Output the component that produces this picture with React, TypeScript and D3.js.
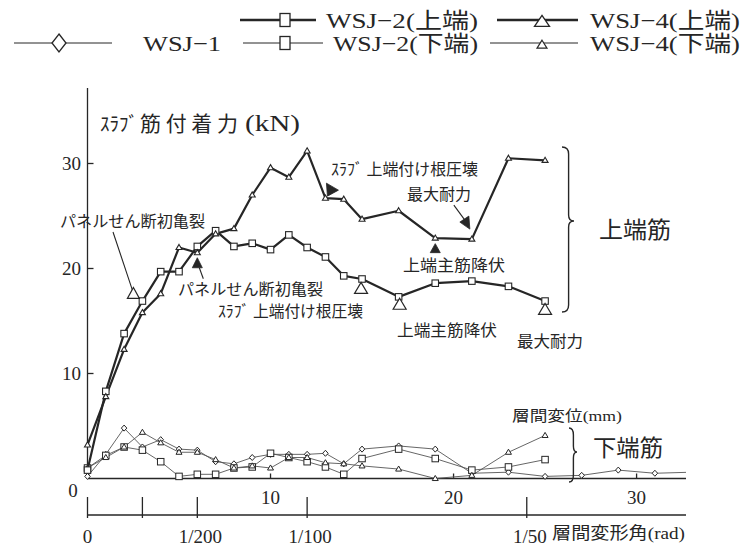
import React from "react";
import * as d3 from "d3";

// Story drift (mm) at each recorded load step
const driftSteps = [0, 1, 2, 3, 4, 5, 6, 7, 8, 9, 10, 11, 12, 13, 14, 15, 17, 19, 21, 23, 25];
const driftStepsWsj1 = [0, 1, 2, 3, 4, 5, 6, 7, 8, 9, 10, 11, 12, 13, 14, 15, 17, 19, 21, 23, 25, 27, 29, 31, 33];

// Slab bar bond force (kN)
const wsj2Top = [0.8, 8.3, 13.8, 16.9, 19.7, 19.7, 22.1, 23.6, 22.1, 22.4, 21.8, 23.2, 22.0, 21.1, 19.3, 19.0, 17.3, 18.6, 18.8, 18.3, 16.9];
const wsj4Top = [3.2, 7.8, 12.3, 15.8, 17.6, 22.0, 21.5, 23.3, 23.8, 27.0, 29.6, 28.7, 31.2, 26.7, 26.6, 24.7, 25.5, 22.9, 22.8, 30.5, 30.3];
const wsj1 = [0.2, 2.3, 4.8, 3.0, 3.7, 2.8, 2.7, 1.6, 1.4, 2.0, 2.3, 2.3, 2.3, 2.4, 1.4, 2.8, 3.1, 2.8, 0.5, 0.6, 0.2, 0.3, 0.8, 0.5, 0.6];
const wsj2Bottom = [1.0, 2.2, 3.0, 2.7, 1.6, 0.2, 0.4, 0.4, 1.0, 1.1, 2.4, 2.0, 1.6, 1.1, 0.4, 1.9, 2.8, 1.9, 0.8, 1.1, 1.8];
const wsj4Bottom = [1.0, 2.0, 3.0, 4.4, 3.4, 2.5, 2.5, 1.8, 1.0, 1.2, 1.0, 2.0, 2.0, 1.5, 1.4, 1.2, 0.9, 0.0, 0.3, 2.5, 4.1];

const yTicks = [10, 20, 30];
const xTicks = [10, 20, 30];
const radTicks = [0, 1 / 400, 1 / 200, 1 / 100, 1 / 50];
const radLabels = ["0", "", "1/200", "1/100", "1/50"];

const INK = "#262626";
const SERIF = "'Liberation Serif', 'DejaVu Serif', serif";
const JP = "'Noto Sans CJK JP', 'Noto Sans CJK SC', sans-serif";
const MIXED = "'Liberation Serif', 'Noto Sans CJK JP', serif";

const x = d3.scaleLinear().domain([0, 32.7]).range([87.5, 686]);
const y = d3.scaleLinear().domain([0, 37]).range([478.5, 90]);
const rad = d3.scaleLinear().domain([0, 0.02]).range([x(0), x(24)]);

function seriesPath(xs: number[], vs: number[]) {
  return (
    d3
      .line<number>()
      .x((_, i) => x(xs[i]))
      .y((v) => y(v))(vs) || ""
  );
}

function tri(cx: number, cy: number, w: number, h: number) {
  return `M${cx},${cy - h * 0.6}L${cx + w / 2},${cy + h * 0.4}L${cx - w / 2},${cy + h * 0.4}Z`;
}
function diamond(cx: number, cy: number, w: number, h: number) {
  return `M${cx},${cy - h / 2}L${cx + w / 2},${cy}L${cx},${cy + h / 2}L${cx - w / 2},${cy}Z`;
}
function brace(x0: number, yTop: number, yBot: number, yMid: number, w: number) {
  const xb = x0 + w * 0.55;
  return (
    `M${x0},${yTop}Q${xb},${yTop} ${xb},${yTop + 7}` +
    `L${xb},${yMid - 6}Q${xb},${yMid} ${x0 + w},${yMid}` +
    `Q${xb},${yMid} ${xb},${yMid + 6}` +
    `L${xb},${yBot - 7}Q${xb},${yBot} ${x0},${yBot}`
  );
}

type MarkerKind = "square" | "triangle" | "diamond";

function Markers({ xs, vs, kind, size, sw, clipMax }: { xs: number[]; vs: number[]; kind: MarkerKind; size: number; sw: number; clipMax?: number }) {
  return (
    <g fill="#fff" stroke={INK} strokeWidth={sw}>
      {vs.map((v, i) => {
        const px = x(xs[i]);
        if (clipMax !== undefined && px > clipMax) return null;
        const py = y(v);
        if (kind === "square")
          return <rect key={i} x={px - size / 2} y={py - size / 2} width={size} height={size} />;
        if (kind === "triangle") return <path key={i} d={tri(px, py, size, size * 0.85)} />;
        return <path key={i} d={diamond(px, py, size, size * 1.1)} />;
      })}
    </g>
  );
}

export default function App() {
  const x0 = x(0);
  const xEnd = 686;
  const y0 = y(0);
  const radY = 515;

  // anchor points for the event markers
  const p = (xs: number[], vs: number[], i: number) => [x(xs[i]), y(vs[i])];
  const [a2x, a2y] = p(driftSteps, wsj2Top, 3);
  const [c2x, c2y] = p(driftSteps, wsj4Top, 6);
  const [s4x, s4y] = p(driftSteps, wsj4Top, 13);
  const [y4x, y4y] = p(driftSteps, wsj4Top, 17);
  const [m4x, m4y] = p(driftSteps, wsj4Top, 18);
  const [s2x, s2y] = p(driftSteps, wsj2Top, 15);
  const [y2x, y2y] = p(driftSteps, wsj2Top, 16);
  const [m2x, m2y] = p(driftSteps, wsj2Top, 20);

  return (
    <svg
      width={742}
      height={546}
      viewBox="0 0 742 546"
      style={{ position: "absolute", left: 0, top: 0, background: "#fff" }}
    >
      <defs>
        <clipPath id="plotClip">
          <rect x={x0} y={80} width={xEnd - x0} height={420} />
        </clipPath>
      </defs>

      {/* legend */}
      <g stroke={INK} fill="#fff">
        <line x1={240} x2={316} y1={20} y2={20} strokeWidth={2.4} />
        <rect x={280} y={13.5} width={10} height={13} strokeWidth={1.3} />
        <line x1={497} x2={578} y1={20} y2={20} strokeWidth={2.4} />
        <path d={tri(542, 22, 15, 11)} strokeWidth={1.3} />
        <line x1={14} x2={112} y1={43} y2={43} strokeWidth={1} />
        <path d={diamond(59, 43, 14, 18)} strokeWidth={1.3} />
        <line x1={243} x2={323} y1={43} y2={43} strokeWidth={1} />
        <rect x={280} y={36.5} width={10} height={13} strokeWidth={1.3} />
        <line x1={490} x2={578} y1={43} y2={43} strokeWidth={1} />
        <path d={tri(542, 45, 10, 8)} strokeWidth={1.2} />
      </g>
      <g fill={INK} fontFamily={MIXED} fontSize={22}>
        <text x={326} y={28} textLength={152} lengthAdjust="spacingAndGlyphs">WSJ−2(上端)</text>
        <text x={590} y={28} textLength={150} lengthAdjust="spacingAndGlyphs">WSJ−4(上端)</text>
        <text x={143} y={51} textLength={78} lengthAdjust="spacingAndGlyphs">WSJ−1</text>
        <text x={333} y={51} textLength={145} lengthAdjust="spacingAndGlyphs">WSJ−2(下端)</text>
        <text x={590} y={51} textLength={150} lengthAdjust="spacingAndGlyphs">WSJ−4(下端)</text>
      </g>

      {/* y-axis title */}
      <g fill={INK}>
        <text x={100} y={131} fontFamily={JP} fontSize={19} textLength={38} lengthAdjust="spacingAndGlyphs">ｽﾗﾌﾞ</text>
        <text x={140} y={131} fontFamily={JP} fontSize={21} textLength={98} lengthAdjust="spacing">筋付着力</text>
        <text x={245} y={131} fontFamily={SERIF} fontSize={24} textLength={55} lengthAdjust="spacingAndGlyphs">(kN)</text>
      </g>

      {/* axes */}
      <g stroke={INK} strokeWidth={1.3} fill="none">
        <line x1={x0} x2={x0} y1={88} y2={y0} />
        <line x1={x0} x2={xEnd} y1={y0} y2={y0} />
        {yTicks.map((t) => (
          <line key={t} x1={x0} x2={x0 + 6} y1={y(t)} y2={y(t)} />
        ))}
        {xTicks.map((t) => (
          <line key={t} x1={x(t)} x2={x(t)} y1={y0} y2={y0 - 5} />
        ))}
        <line x1={x0} x2={xEnd} y1={radY} y2={radY} />
        {radTicks.map((t, i) => (
          <line key={i} x1={rad(t)} x2={rad(t)} y1={radY - 18} y2={radY + 3} />
        ))}
      </g>
      <g fill={INK} fontFamily={SERIF} fontSize={19}>
        {yTicks.map((t) => (
          <text key={t} x={81} y={y(t) + 6} textAnchor="end">{t}</text>
        ))}
        <text x={73} y={497} textAnchor="middle">0</text>
        {xTicks.map((t) => (
          <text key={t} x={x(t)} y={504} textAnchor="middle">{t}</text>
        ))}
        {radTicks.map((t, i) =>
          radLabels[i] ? (
            <text key={i} x={rad(t) + (i === 0 ? 0 : 3)} y={543} textAnchor="middle">{radLabels[i]}</text>
          ) : null
        )}
      </g>
      <text x={552} y={539} fill={INK} fontFamily={MIXED} fontSize={17} textLength={133} lengthAdjust="spacingAndGlyphs">層間変形角(rad)</text>
      <text x={512} y={421} fill={INK} fontFamily={MIXED} fontSize={15} textLength={110} lengthAdjust="spacingAndGlyphs">層間変位(mm)</text>

      {/* bottom-bar series */}
      <g fill="none" stroke="#555" strokeWidth={0.9} clipPath="url(#plotClip)">
        <path d={seriesPath(driftStepsWsj1, wsj1)} />
        <path d={seriesPath(driftSteps, wsj2Bottom)} />
        <path d={seriesPath(driftSteps, wsj4Bottom)} />
      </g>
      <Markers xs={driftStepsWsj1} vs={wsj1} kind="diamond" size={5.5} sw={1} clipMax={xEnd - 5} />
      <Markers xs={driftSteps} vs={wsj2Bottom} kind="square" size={6.5} sw={1} />
      <Markers xs={driftSteps} vs={wsj4Bottom} kind="triangle" size={6} sw={1} />

      {/* top-bar series */}
      <g fill="none" stroke={INK} strokeWidth={2.2} strokeLinejoin="round">
        <path d={seriesPath(driftSteps, wsj2Top)} />
        <path d={seriesPath(driftSteps, wsj4Top)} />
      </g>
      <Markers xs={driftSteps} vs={wsj2Top} kind="square" size={6.5} sw={1.1} />
      <Markers xs={driftSteps} vs={wsj4Top} kind="triangle" size={6} sw={1.1} />

      {/* braces */}
      <g fill="none" stroke={INK} strokeWidth={1.4}>
        <path d={brace(562, 147, 312, 221, 12)} />
        <path d={brace(569, 428, 482, 452, 8)} />
      </g>
      <g fill={INK} fontFamily={JP} fontSize={23}>
        <text x={599} y={238} textLength={72} lengthAdjust="spacingAndGlyphs">上端筋</text>
        <text x={593} y={456} textLength={70} lengthAdjust="spacingAndGlyphs">下端筋</text>
      </g>

      {/* event annotations */}
      <g fill={INK} fontFamily={JP} fontSize={16}>
        <text x={60} y={227} textLength={145} lengthAdjust="spacingAndGlyphs">パネルせん断初亀裂</text>
        <text x={178} y={295} fontSize={15.5} textLength={145} lengthAdjust="spacingAndGlyphs">パネルせん断初亀裂</text>
        <text x={218} y={317} fontSize={15.5} textLength={145} lengthAdjust="spacingAndGlyphs">ｽﾗﾌﾞ 上端付け根圧壊</text>
        <text x={397} y={336} textLength={100} lengthAdjust="spacingAndGlyphs">上端主筋降伏</text>
        <text x={517} y={347} textLength={66} lengthAdjust="spacingAndGlyphs">最大耐力</text>
        <text x={331} y={175} textLength={147} lengthAdjust="spacingAndGlyphs">ｽﾗﾌﾞ 上端付け根圧壊</text>
        <text x={407} y={200} textLength={64} lengthAdjust="spacingAndGlyphs">最大耐力</text>
        <text x={403} y={271} textLength={102} lengthAdjust="spacingAndGlyphs">上端主筋降伏</text>
      </g>
      <g stroke={INK} strokeWidth={1.1} fill="none">
        <line x1={113} y1={232} x2={a2x - 10} y2={a2y - 11} />
        <line x1={c2x + 2} y1={c2y + 15} x2={c2x + 6} y2={c2y + 26} />
        <line x1={m4x - 18} y1={m4y - 34} x2={m4x - 7} y2={m4y - 19} />
      </g>
      {/* hollow markers: WSJ-2 events */}
      <g fill="#fff" stroke={INK} strokeWidth={1.2}>
        <path d={tri(a2x - 9, a2y - 7, 12, 11)} />
        <path d={tri(s2x - 1, s2y + 10, 13, 11)} />
        <path d={tri(y2x + 1, y2y + 8, 13, 11)} />
        <path d={tri(m2x, m2y + 9, 13, 11)} />
      </g>
      {/* filled markers: WSJ-4 events */}
      <g fill={INK} stroke={INK} strokeWidth={0.8}>
        <path d={tri(c2x, c2y + 11, 10, 10)} />
        <path d={`M${s4x + 1},${s4y - 15}L${s4x + 13},${s4y - 8}L${s4x + 2},${s4y - 2}Z`} />
        <path d={tri(y4x, y4y + 11, 10, 9)} />
        <path d={`M${m4x - 12},${m4y - 17}L${m4x - 3},${m4y - 23}L${m4x - 2},${m4y - 10}Z`} />
      </g>
    </svg>
  );
}
